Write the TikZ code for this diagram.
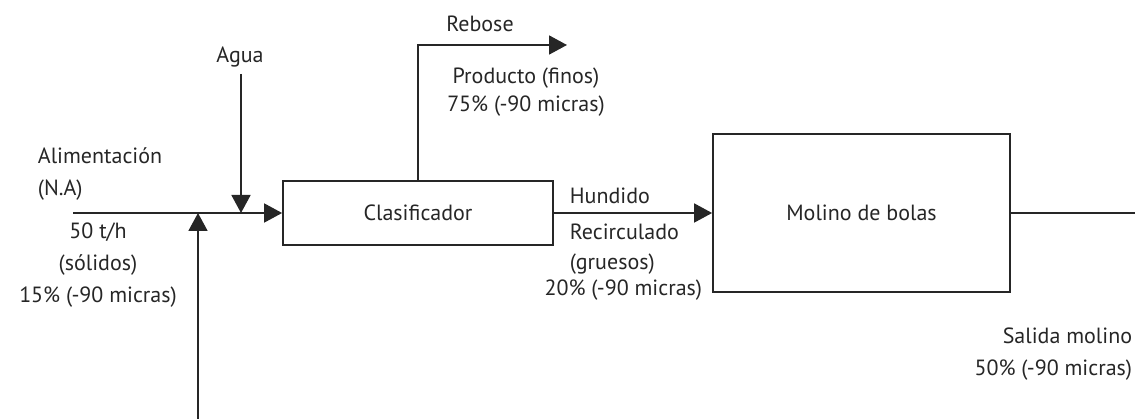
\documentclass[tikz,border=0pt]{standalone}
\usepackage{fontspec}
\setmainfont{PT Sans}
\usetikzlibrary{arrows.meta}
\begin{document}
\begin{tikzpicture}[x=1pt,y=-1pt,
  line width=1.8pt, draw=black!85,
  flow/.style={-{Triangle[length=18pt,width=19pt]}},
  box/.style={draw, rectangle, inner sep=0pt},
  lbl/.style={inner sep=0pt, font=\fontsize{22}{32}\selectfont, text=black!85}]
\useasboundingbox (0,0) rectangle (1135,419);
% boxes
\node[box, minimum width=270pt, minimum height=64pt, lbl] (clas) at (418,213) {Clasificador};
\node[box, minimum width=297pt, minimum height=158pt, lbl] (mol) at (861.5,213) {Molino de bolas};
% coordinates
\coordinate (feed) at (73,213);
\coordinate (junc) at (198,213);
\coordinate (rec) at (198,419);
\coordinate (agua0) at (241,74);
\coordinate (agua1) at (241,213);
\coordinate (reb) at (567,45);
\coordinate (out) at (1135,213);
% connectors
\draw[flow] (feed) -- (clas.west);
\draw[flow] (rec) -- (junc);
\draw[flow] (agua0) -- (agua1);
\draw[flow] (clas.north) |- (reb);
\draw[flow] (clas.east) -- (mol.west);
\draw (mol.east) -- (out);
% labels
\node[lbl] (tagua) at (240,57) {Agua};
\node[lbl] (treb) at (480,24) {Rebose};
\node[lbl, align=center, font=\fontsize{22}{28}\selectfont] (tprod) at (526,92) {Producto (finos)\\75\% (-90 micras)};
\node[lbl, align=left, anchor=west] (talim) at (37,174) {Alimentación\\(N.A)};
\node[lbl, align=center] (tfeed) at (98,265) {50 t/h\\(sólidos)\\15\% (-90 micras)};
\node[lbl, anchor=west] (thund) at (569,196) {Hundido};
\node[lbl, anchor=west] (trec1) at (569,232) {Recirculado};
\node[lbl, anchor=west] (trec2) at (569,264) {(gruesos)};
\node[lbl, anchor=east] (trec3) at (703,290) {20\% (-90 micras)};
\node[lbl, align=right, anchor=east] (tsal) at (1133,354) {Salida molino\\50\% (-90 micras)};
\end{tikzpicture}
\end{document}
